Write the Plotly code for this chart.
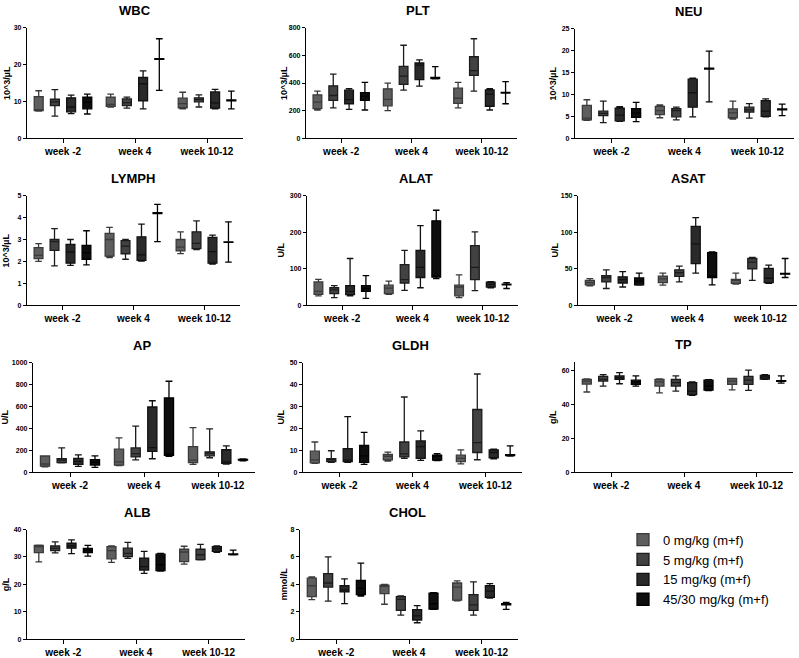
import plotly.graph_objects as go

weeks = ["week -2", "week 4", "week 10-12"]
groups = ["0 mg/kg (m+f)", "5 mg/kg (m+f)", "15 mg/kg (m+f)", "45/30 mg/kg (m+f)"]

# per group -> per week -> (min, q1, median, q3, max)
WBC = [
    [(7.4, 7.5, 7.7, 11.3, 12.9), (8.5, 8.7, 9.2, 11.2, 12.0), (8.0, 8.3, 9.4, 10.9, 12.5)],
    [(6.0, 8.9, 9.9, 10.6, 13.2), (8.2, 8.9, 9.7, 10.7, 11.2), (8.5, 9.9, 10.5, 11.0, 11.8)],
    [(6.7, 7.2, 8.5, 11.0, 11.7), (8.0, 10.2, 14.8, 16.5, 18.3), (8.0, 8.2, 9.6, 12.6, 13.3)],
    [(6.6, 8.0, 9.8, 11.2, 12.0), (13.0, 21.4, 21.5, 21.6, 27.0), (8.0, 10.2, 10.3, 10.4, 12.8)],
]
PLT = [
    [(205, 215, 262, 315, 342), (200, 235, 282, 358, 400), (220, 253, 290, 363, 405)],
    [(220, 275, 310, 380, 465), (348, 390, 450, 520, 673), (342, 455, 490, 590, 720)],
    [(210, 250, 280, 348, 360), (378, 425, 530, 545, 568), (205, 232, 320, 350, 360)],
    [(205, 275, 305, 330, 405), (430, 432, 437, 440, 518), (250, 328, 330, 332, 410)],
]
NEU = [
    [(4.1, 4.2, 4.6, 7.5, 8.8), (4.7, 5.4, 6.3, 7.3, 7.6), (4.4, 4.7, 5.8, 6.7, 8.5)],
    [(3.6, 5.2, 5.7, 6.2, 8.5), (4.2, 4.9, 6.3, 6.8, 7.1), (4.6, 6.0, 6.5, 7.1, 7.9)],
    [(3.9, 4.0, 5.3, 6.9, 7.2), (4.9, 7.1, 10.4, 13.5, 13.7), (4.9, 5.0, 6.2, 8.6, 9.0)],
    [(3.8, 4.8, 5.8, 6.8, 8.2), (8.3, 15.8, 15.9, 16.0, 19.9), (5.2, 6.5, 6.6, 6.7, 7.8)],
]
LYMPH = [
    [(2.0, 2.13, 2.28, 2.63, 2.81), (2.18, 2.24, 3.0, 3.28, 3.55), (2.36, 2.48, 2.65, 3.0, 3.35)],
    [(1.8, 2.5, 2.9, 3.0, 3.5), (2.1, 2.35, 2.7, 2.95, 3.0), (2.54, 2.58, 2.82, 3.35, 3.85)],
    [(1.82, 1.92, 2.43, 2.78, 3.0), (2.02, 2.05, 2.3, 3.12, 3.7), (1.88, 1.92, 2.45, 3.1, 3.2)],
    [(1.84, 2.1, 2.4, 2.73, 3.4), (2.9, 4.18, 4.2, 4.22, 4.6), (1.97, 2.87, 2.88, 2.89, 3.8)],
]
ALAT = [
    [(26, 30, 38, 64, 71), (30, 32, 47, 55, 66), (21, 26, 50, 55, 83)],
    [(21, 32, 42, 48, 54), (41, 61, 70, 111, 150), (40, 70, 104, 163, 201)],
    [(26, 29, 38, 54, 128), (48, 76, 104, 150, 218), (48, 50, 57, 63, 65)],
    [(19, 38, 46, 54, 81), (73, 77, 80, 231, 260), (46, 56, 57, 58, 62)],
]
ASAT = [
    [(26.5, 28, 31, 34, 36.5), (27.5, 31, 36, 40, 44), (29, 30, 34, 35.5, 44)],
    [(23, 32, 38, 40.5, 48.5), (32, 39.5, 44.5, 48.5, 53.5), (34, 50, 59, 64, 65.5)],
    [(25, 30.5, 35, 39, 46), (44, 57, 84, 108, 120), (30, 31, 37, 50.5, 55)],
    [(27.5, 28, 33, 37.5, 44), (28, 38, 40, 72, 73), (38, 42.5, 43, 43.5, 64)],
]
AP = [
    [(50, 55, 75, 148, 150), (60, 65, 95, 210, 314), (72, 88, 110, 233, 407)],
    [(85, 88, 110, 125, 222), (112, 140, 170, 222, 420), (132, 150, 172, 186, 395)],
    [(54, 72, 100, 126, 158), (123, 190, 225, 595, 652), (75, 80, 95, 205, 240)],
    [(45, 65, 90, 115, 150), (145, 155, 160, 677, 830), (105, 110, 114, 118, 122)],
]
GLDH = [
    [(4.0, 4.3, 5.6, 9.6, 13.8), (5.1, 5.6, 7.2, 8.1, 9.2), (3.8, 4.8, 6.3, 7.8, 10.2)],
    [(4.5, 4.8, 5.7, 6.2, 9.8), (6.3, 7.0, 8.4, 13.8, 34.3), (5.7, 9.0, 13.5, 28.6, 44.8)],
    [(4.5, 4.8, 5.5, 10.8, 25.4), (5.4, 6.3, 11.7, 14.3, 18.9), (6.1, 6.6, 9.0, 10.2, 10.5)],
    [(3.6, 4.5, 7.5, 12.2, 18.2), (5.3, 5.5, 7.5, 7.8, 8.5), (7.4, 7.6, 7.8, 8.0, 12.0)],
]
TP = [
    [(47.5, 52.2, 54, 55, 55.2), (47, 51, 53.5, 55, 55.2), (48.8, 52, 54, 55.5, 55.6)],
    [(51, 54, 55, 56.7, 57.8), (48, 51, 53, 55, 57), (48.5, 52, 54.5, 56.7, 60.5)],
    [(52.4, 55, 56, 57, 59), (45.5, 46, 48, 53, 53.5), (55, 55.2, 56.5, 57.3, 57.8)],
    [(51, 52, 53.5, 54.5, 57), (48.3, 48.6, 51, 54.5, 54.8), (52.8, 53.8, 54, 54.2, 57)],
]
ALB = [
    [(28.2, 31.6, 33.8, 34.2, 34.3), (28, 29.3, 32.3, 33.8, 34), (27.4, 28.3, 31.8, 32.8, 33.9)],
    [(31.5, 32.3, 33.1, 34.0, 35.5), (29.5, 30.1, 31.3, 33.2, 35.3), (28.9, 29.0, 30.8, 32.8, 34.6)],
    [(31.2, 33.2, 34.0, 35.0, 36.2), (24, 25.2, 26.5, 29.6, 32.0), (31.7, 32.0, 33.0, 33.8, 34.0)],
    [(30.3, 31.6, 32.4, 33.1, 34.2), (24.8, 25, 27.2, 31, 31.3), (30.8, 30.9, 31.0, 31.1, 32.5)],
]
CHOL = [
    [(2.88, 3.1, 3.9, 4.45, 4.55), (2.55, 3.32, 3.85, 3.95, 4.0), (2.8, 2.85, 3.8, 4.1, 4.25)],
    [(2.78, 3.8, 4.1, 4.78, 6.0), (1.75, 2.1, 2.9, 3.1, 3.15), (1.75, 2.1, 2.5, 3.25, 4.18)],
    [(2.6, 3.45, 3.6, 3.9, 4.4), (1.2, 1.4, 1.7, 2.15, 2.45), (3.0, 3.05, 3.5, 3.9, 4.05)],
    [(3.15, 3.25, 3.7, 4.28, 5.55), (2.17, 2.2, 2.6, 3.35, 3.4), (2.17, 2.5, 2.55, 2.6, 2.68)],
]

# name, y-axis label, data, y max, dtick
panels = [
    ("WBC", "10^3/µL", WBC, 30, 10),
    ("PLT", "10^3/µL", PLT, 800, 200),
    ("NEU", "10^3/µL", NEU, 25, 5),
    ("LYMPH", "10^3/µL", LYMPH, 5, 1),
    ("ALAT", "U/L", ALAT, 300, 100),
    ("ASAT", "U/L", ASAT, 150, 50),
    ("AP", "U/L", AP, 1000, 200),
    ("GLDH", "U/L", GLDH, 50, 10),
    ("TP", "g/L", TP, 65.5, 20),
    ("ALB", "g/L", ALB, 40, 10),
    ("CHOL", "mmol/L", CHOL, 8, 2),
]

# layout in pixels: (x0, x1, ytop, ybottom, title_x, ylabel_x)
W, H = 799, 658
boxes = [
    (27, 243, 24, 136, 135, 7),
    (306, 517, 24, 136, 418, 284),
    (575, 794, 25, 136, 688, 553),
    (27, 240, 194, 305, 133, 6),
    (307, 518, 194, 305, 416, 281),
    (578, 797, 194, 305, 688, 555),
    (33, 255, 363, 474, 142, 5),
    (303, 522, 363, 474, 410, 281),
    (575, 793, 362, 474, 683, 553),
    (27, 245, 532, 643, 137, 6),
    (300, 518, 532, 643, 407, 284),
]

fills = ["#5e5e5e", "#424242", "#2a2a2a", "#0e0e0e"]
lines = ["#3a3a3a", "#1c1c1c", "#111111", "#000000"]
FONT = "Liberation Sans, Arial, Helvetica, sans-serif"

fig = go.Figure()
annotations = []
layout = {}
for p, (name, unit, data, ymax, dtick) in enumerate(panels):
    s = "" if p == 0 else str(p + 1)
    x0, x1, yt, yb, tx, lx = boxes[p]
    for g in range(4):
        st = data[g]
        fig.add_trace(go.Box(
            x=weeks,
            lowerfence=[v[0] for v in st],
            q1=[v[1] for v in st],
            median=[v[2] for v in st],
            q3=[v[3] for v in st],
            upperfence=[v[4] for v in st],
            name=groups[g],
            legendgroup=groups[g],
            showlegend=(p == 0),
            alignmentgroup="panel" + str(p),
            offsetgroup="g" + str(g),
            fillcolor=fills[g],
            line=dict(color=lines[g], width=1.3),
            whiskerwidth=0.75,
            boxpoints=False,
            xaxis="x" + s,
            yaxis="y" + s,
            hoverinfo="skip",
        ))
    layout["xaxis" + s] = dict(
        domain=[x0 / W, x1 / W], anchor="y" + s, type="category",
        categoryorder="array", categoryarray=weeks, range=[-0.5, 2.5],
        showline=True, linecolor="black", linewidth=1.3, mirror=False,
        ticks="outside", ticklen=4, tickwidth=1.3, tickcolor="black",
        tickfont=dict(family=FONT, size=10, color="black", weight="bold"),
        showgrid=False, zeroline=False,
    )
    layout["yaxis" + s] = dict(
        domain=[1 - yb / H, 1 - yt / H], anchor="x" + s, range=[0, ymax],
        dtick=dtick, tick0=0,
        showline=True, linecolor="black", linewidth=1.3,
        ticks="outside", ticklen=3, tickwidth=1.3, tickcolor="black",
        tickfont=dict(family=FONT, size=7, color="black", weight="bold"),
        showgrid=False, zeroline=False,
    )
    annotations.append(dict(
        text=name, x=tx / W, y=1 - (yt - 17) / H, xref="paper", yref="paper",
        xanchor="center", yanchor="middle", showarrow=False,
        font=dict(family=FONT, size=13, color="black", weight="bold"),
    ))
    annotations.append(dict(
        text=unit, x=lx / W, y=1 - ((yt + yb) / 2) / H, xref="paper", yref="paper",
        xanchor="center", yanchor="middle", showarrow=False, textangle=-90,
        font=dict(family=FONT, size=9, color="black", weight="bold"),
    ))

fig.update_layout(
    **layout,
    width=W, height=H,
    margin=dict(l=0, r=0, t=0, b=0),
    paper_bgcolor="white", plot_bgcolor="white",
    boxmode="group", boxgap=0.1, boxgroupgap=0.45,
    annotations=annotations,
    showlegend=True,
    legend=dict(
        x=623 / W, y=1 - 527 / H, xanchor="left", yanchor="top",
        font=dict(family=FONT, size=13, color="black"),
        tracegroupgap=5, bgcolor="rgba(0,0,0,0)", traceorder="normal",
    ),
)

fig.write_html("out.html")
